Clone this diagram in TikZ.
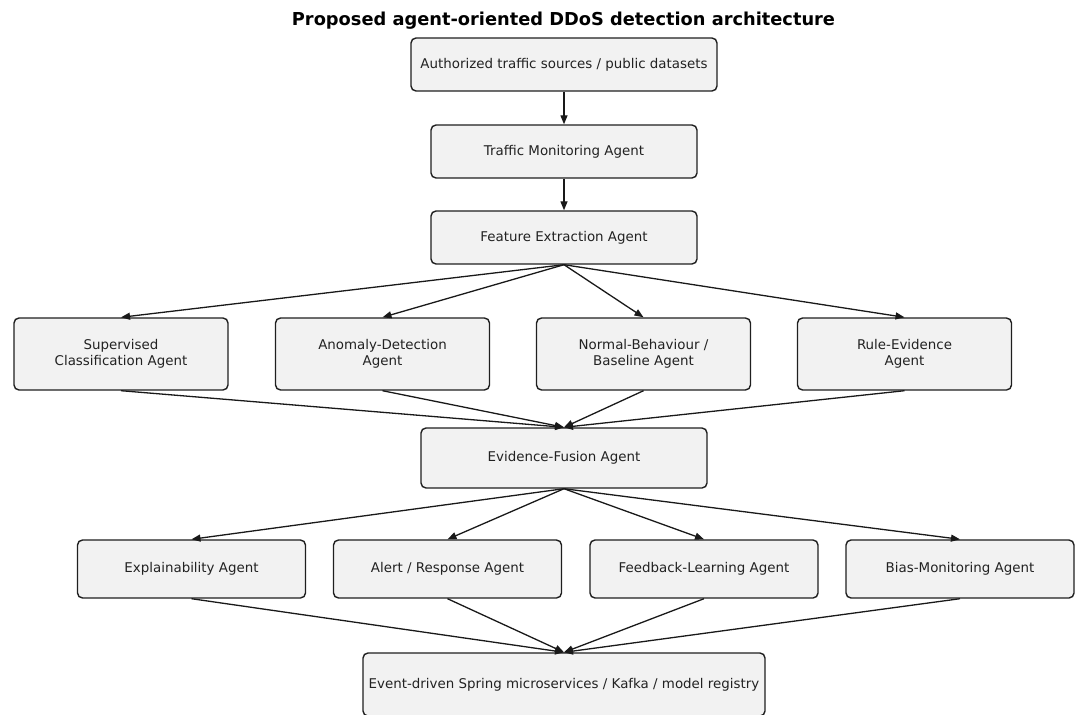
\documentclass[tikz,border=0pt]{standalone}
\usepackage{fontspec}
\setmainfont{DejaVu Sans}
\usetikzlibrary{arrows.meta}
\definecolor{boxfill}{HTML}{F2F2F2}
\definecolor{edgecol}{HTML}{1F1F1F}
\definecolor{txtcol}{HTML}{222222}
\begin{document}
\begin{tikzpicture}[x=1pt,y=-1pt,
  agent/.style={draw=edgecol, fill=boxfill, line width=1.4pt, rounded corners=5pt,
    align=center, inner sep=0pt, text=txtcol, font=\fontsize{13.4}{16}\selectfont},
  flow/.style={-{Triangle[length=9pt,width=7pt]}, line width=1.3pt, draw=black!90},
]
\useasboundingbox (0,0) rectangle (1077,715);
\node[font=\fontsize{17.8}{21}\selectfont\bfseries] (title) at (563.5,20.5) {Proposed agent-oriented DDoS detection architecture};

\node[agent, minimum width=306, minimum height=53] (src) at (564,64.5) {Authorized traffic sources / public datasets};
\node[agent, minimum width=266, minimum height=53] (tm) at (564,151.5) {Traffic Monitoring Agent};
\node[agent, minimum width=266, minimum height=53] (fe) at (564,237.5) {Feature Extraction Agent};

\node[agent, minimum width=214, minimum height=72] (sc) at (121,354) {Supervised\\Classification Agent};
\node[agent, minimum width=214, minimum height=72] (ad) at (382.5,354) {Anomaly-Detection\\Agent};
\node[agent, minimum width=214, minimum height=72] (nb) at (643.5,354) {Normal-Behaviour /\\Baseline Agent};
\node[agent, minimum width=214, minimum height=72] (re) at (904.5,354) {Rule-Evidence\\Agent};

\node[agent, minimum width=286, minimum height=60] (ef) at (564,458) {Evidence-Fusion Agent};

\node[agent, minimum width=228, minimum height=58] (ex) at (191.5,569) {Explainability Agent};
\node[agent, minimum width=228, minimum height=58] (al) at (447.5,569) {Alert / Response Agent};
\node[agent, minimum width=228, minimum height=58] (fl) at (704,569) {Feedback-Learning Agent};
\node[agent, minimum width=228, minimum height=58] (bm) at (960,569) {Bias-Monitoring Agent};

\node[agent, minimum width=402, minimum height=63] (ms) at (564,684.5) {Event-driven Spring microservices / Kafka / model registry};

\draw[flow] (src.south) -- (tm.north);
\draw[flow] (tm.south) -- (fe.north);
\foreach \t in {sc,ad,nb,re}{
  \draw[flow] (fe.south) -- (\t.north);
  \draw[flow] (\t.south) -- (ef.north);
}
\foreach \t in {ex,al,fl,bm}{
  \draw[flow] (ef.south) -- (\t.north);
  \draw[flow] (\t.south) -- (ms.north);
}
\end{tikzpicture}
\end{document}
